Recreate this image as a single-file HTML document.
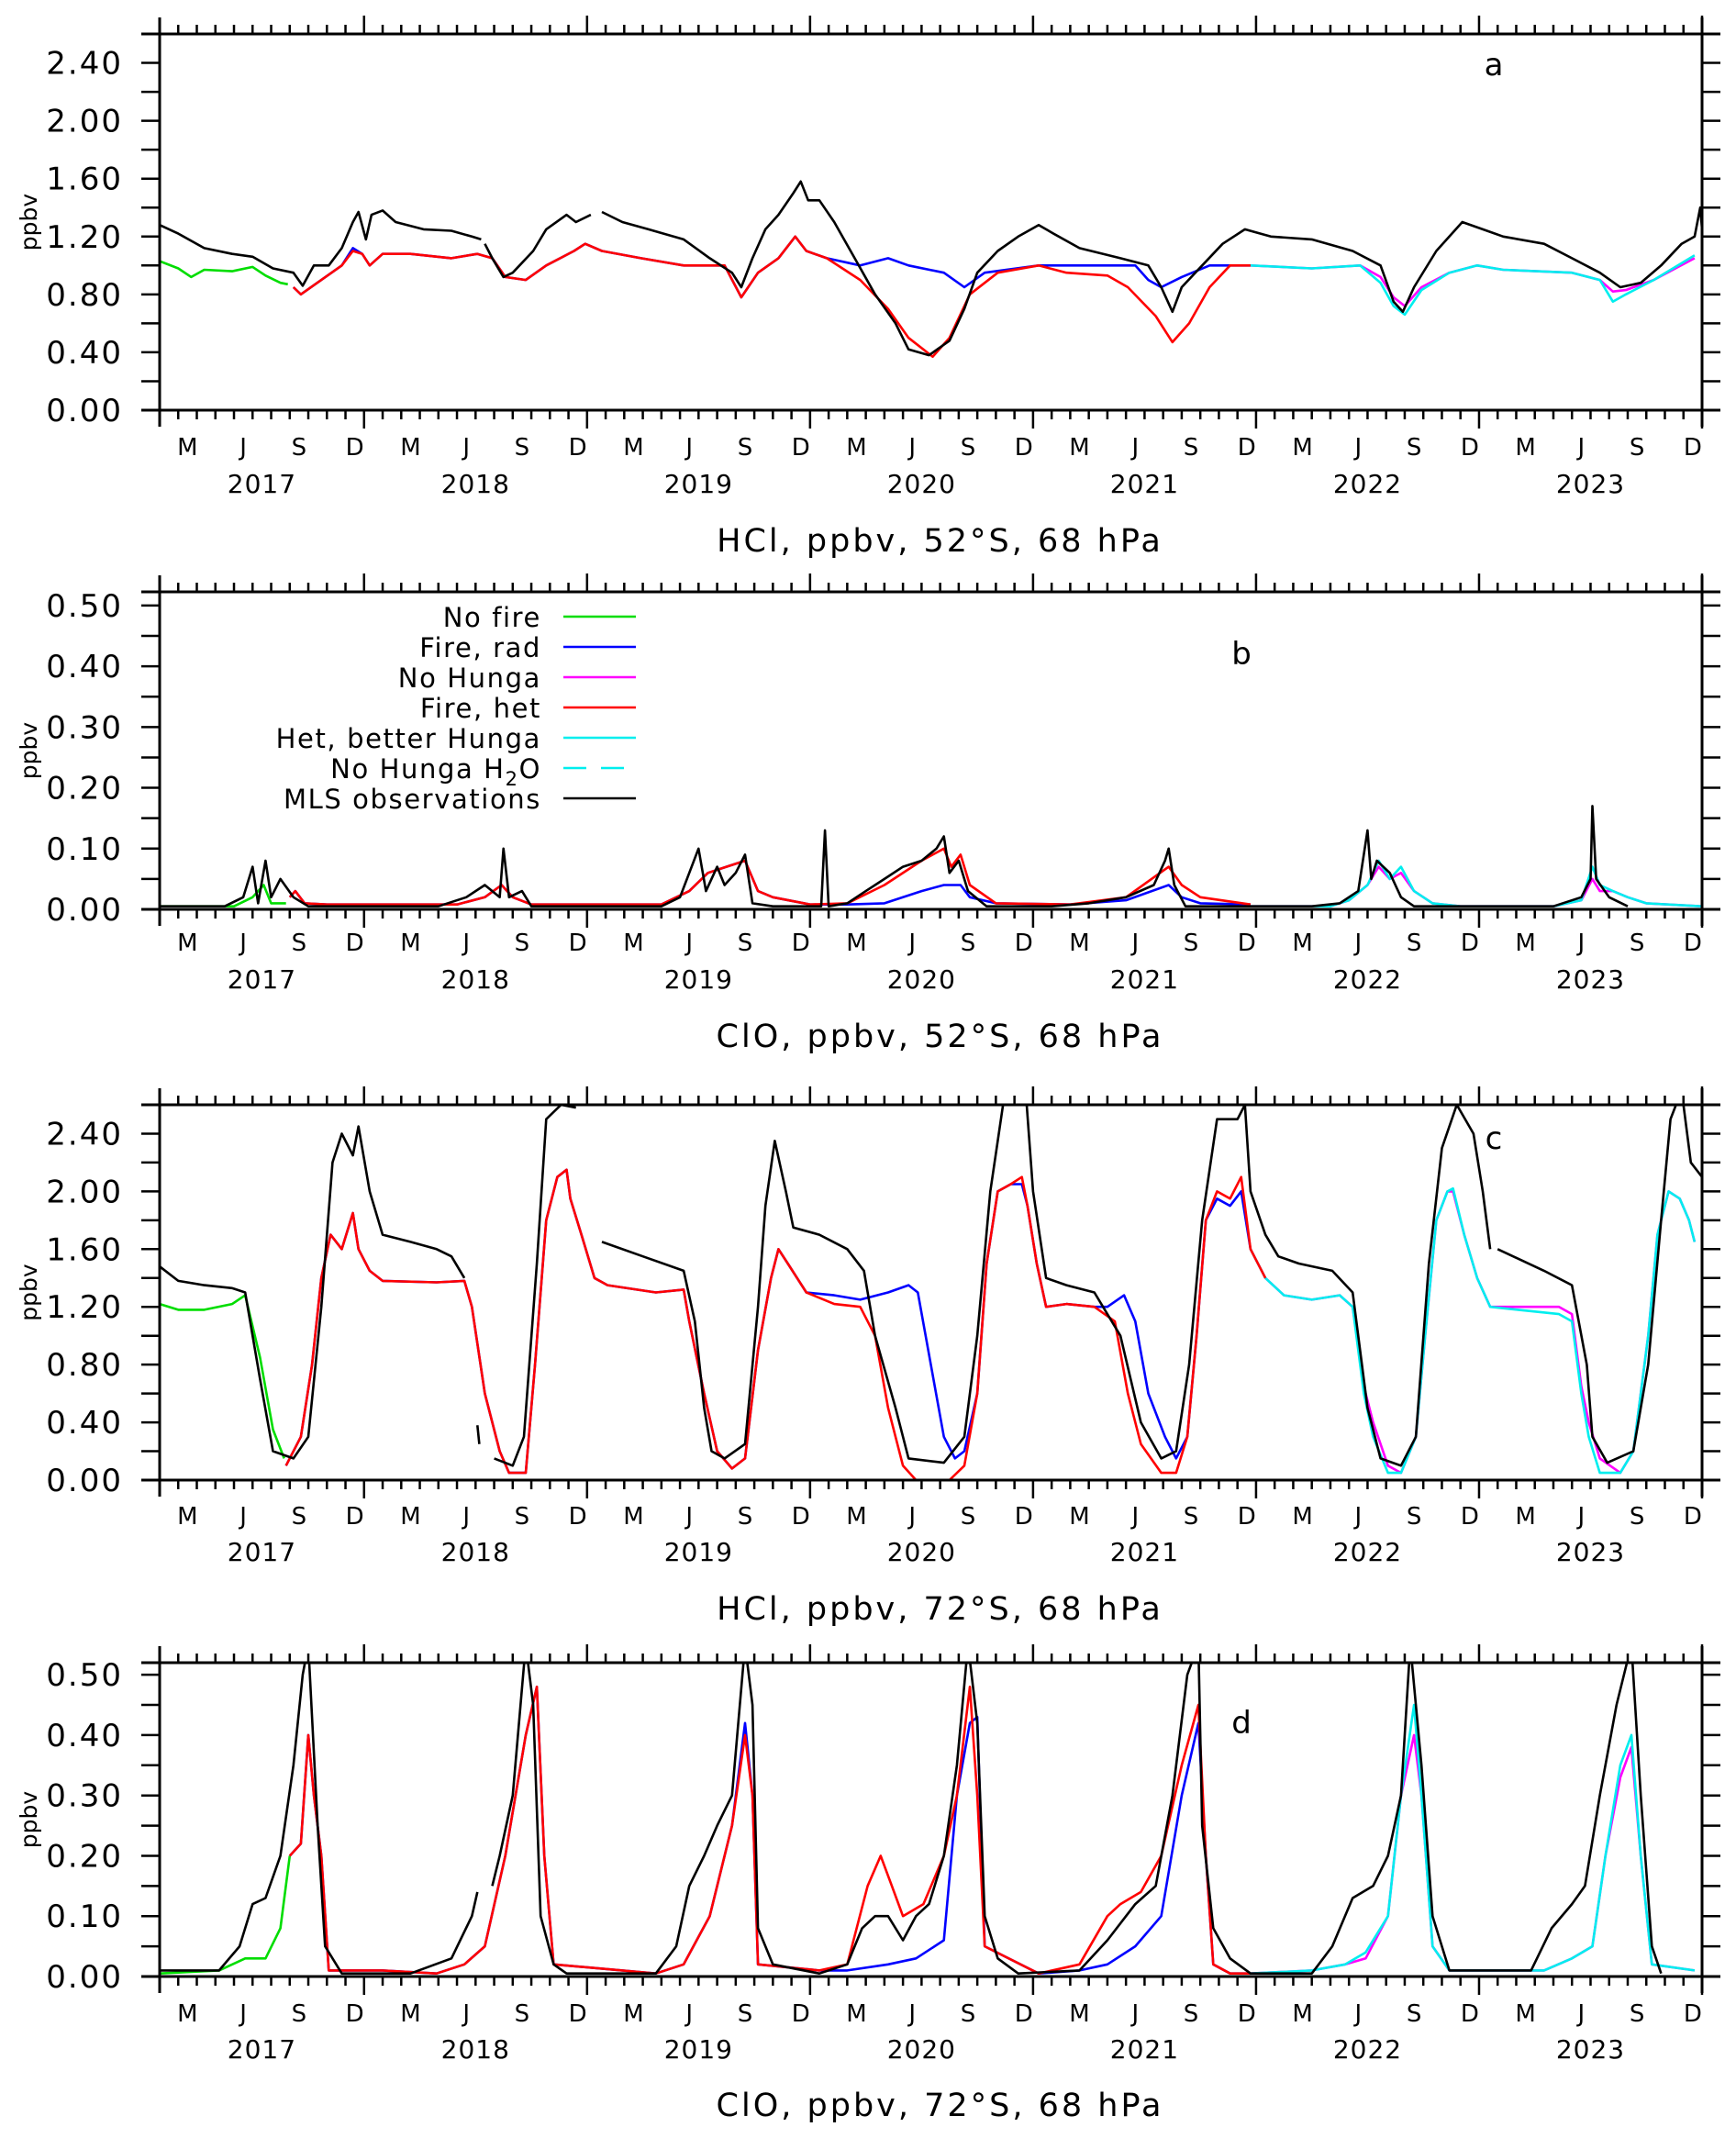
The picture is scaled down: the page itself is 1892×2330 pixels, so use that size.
<!DOCTYPE html>
<html><head><meta charset="utf-8"><style>
html,body{margin:0;padding:0;background:#fff;}
svg{display:block;}
text{font-family:"DejaVu Sans","Liberation Sans",sans-serif;fill:#000;}
</style></head><body>
<svg id="fig" width="1892" height="2330" viewBox="0 0 1892 2330" xmlns="http://www.w3.org/2000/svg"></svg>
<script>
// ---------- DATA (month index: 0 = Jan 1 2017; plot spans 1..84) ----------
const monthLabels = ["M","J","S","D"];
const monthLabelPos = [2.5,5.5,8.5,11.5];
const years = [2017,2018,2019,2020,2021,2022,2023];
const legendLabels = ["No fire","Fire, rad","No Hunga","Fire, het","Het, better Hunga","No Hunga H2O","MLS observations"];
const ticksHCl = ["0.00","0.40","0.80","1.20","1.60","2.00","2.40"];
const ticksClO = ["0.00","0.10","0.20","0.30","0.40","0.50"];

// Panel a: HCl 52S
const aGreen = [[1,1.03],[2,0.98],[2.7,0.92],[3.4,0.97],[4.9,0.96],[6,0.99],[6.7,0.93],[7.5,0.88],[7.9,0.87]];
const aBlue = [[8.2,0.85],[8.6,0.8],[9.7,0.9],[10.8,1.0],[11.4,1.12],[11.9,1.08],[12.3,1.0],[13,1.08],[14.5,1.08],[16.7,1.05],[18.1,1.08],[18.9,1.05],[19.6,0.92],[20.7,0.9],[21.8,1.0],[23.3,1.1],[23.9,1.15],[24.8,1.1],[26.9,1.05],[29.2,1.0],[31.4,1.0],[32.3,0.78],[33.2,0.95],[34.3,1.05],[35.2,1.2],[35.8,1.1],[36.9,1.05],[38.7,1.0],[40.2,1.05],[41.3,1.0],[43.2,0.95],[44.3,0.85],[45.4,0.95],[48.3,1.0],[52,1.0],[53.5,1.0],[54.2,0.9],[54.9,0.85],[56,0.92],[57.5,1.0],[59.7,1.0]];
const aRed = [[8.2,0.85],[8.6,0.8],[9.7,0.9],[10.8,1.0],[11.4,1.1],[11.9,1.08],[12.3,1.0],[13,1.08],[14.5,1.08],[16.7,1.05],[18.1,1.08],[18.9,1.05],[19.6,0.92],[20.7,0.9],[21.8,1.0],[23.3,1.1],[23.9,1.15],[24.8,1.1],[26.9,1.05],[29.2,1.0],[31.4,1.0],[32.3,0.78],[33.2,0.95],[34.3,1.05],[35.2,1.2],[35.8,1.1],[36.9,1.05],[38.7,0.9],[40.2,0.7],[41.3,0.5],[42.6,0.37],[43.5,0.5],[44.6,0.8],[46.1,0.95],[48.3,1.0],[49.8,0.95],[52,0.93],[53.1,0.85],[54.6,0.65],[55.5,0.47],[56.4,0.6],[57.5,0.85],[58.6,1.0],[59.7,1.0]];
const aMagenta = [[59.7,1.0],[63,0.98],[65.6,1.0],[66.7,0.92],[67.4,0.78],[68,0.72],[68.9,0.85],[70.4,0.95],[71.9,1.0],[73.3,0.97],[77,0.95],[78.5,0.9],[79.2,0.82],[79.9,0.83],[81.4,0.9],[83.6,1.05]];
const aCyan = [[59.7,1.0],[63,0.98],[65.6,1.0],[66.7,0.88],[67.4,0.72],[68,0.66],[68.9,0.83],[70.4,0.95],[71.9,1.0],[73.3,0.97],[77,0.95],[78.5,0.9],[79.2,0.75],[79.9,0.8],[81.4,0.9],[83.6,1.07]];
const aBlack = [[1,1.28],[2,1.22],[3.4,1.12],[4.9,1.08],[6,1.06],[7.1,0.98],[8.2,0.95],[8.7,0.86],[9.3,1.0],[10.1,1.0],[10.8,1.12],[11.4,1.3],[11.7,1.37],[12.1,1.18],[12.4,1.35],[13,1.38],[13.7,1.3],[15.2,1.25],[16.7,1.24],[17.8,1.2],[18.3,1.18],null,[18.5,1.15],[18.9,1.05],[19.5,0.92],[20,0.95],[21.1,1.1],[21.8,1.25],[22.9,1.35],[23.4,1.3],[24.2,1.35],null,[24.8,1.37],[25.9,1.3],[27.3,1.25],[29.2,1.18],[30.6,1.05],[31.8,0.95],[32.3,0.85],[32.9,1.05],[33.6,1.25],[34.3,1.35],[35.1,1.5],[35.5,1.58],[35.9,1.45],[36.5,1.45],[37.3,1.3],[38.4,1.05],[39.5,0.8],[40.6,0.6],[41.3,0.42],[42.4,0.38],[43.5,0.48],[44.3,0.7],[45,0.95],[46.1,1.1],[47.2,1.2],[48.3,1.28],[49.1,1.22],[50.5,1.12],[52.7,1.05],[54.2,1.0],[54.9,0.85],[55.5,0.68],[56,0.85],[57.1,1.0],[58.2,1.15],[59.4,1.25],[60.8,1.2],[63,1.18],[65.2,1.1],[66.7,1.0],[67.4,0.75],[67.9,0.68],[68.5,0.85],[69.7,1.1],[71.1,1.3],[72.2,1.25],[73.3,1.2],[75.5,1.15],[77,1.05],[78.5,0.95],[79.6,0.85],[80.7,0.88],[81.8,1.0],[82.9,1.15],[83.6,1.2],[83.9,1.4],[84,1.25]];

// Panel b: ClO 52S
const bGreen = [[1,0.005],[5,0.005],[6,0.02],[6.6,0.04],[7,0.01],[7.8,0.01]];
const bBlue = [[8,0.02],[8.3,0.03],[8.8,0.01],[10,0.008],[17,0.008],[18.5,0.02],[19.4,0.04],[20,0.02],[21,0.008],[28,0.008],[29.5,0.03],[30.5,0.06],[31.5,0.07],[32.5,0.08],[33.2,0.03],[34,0.02],[36,0.008],[38,0.008],[40,0.01],[42,0.03],[43.2,0.04],[44.1,0.04],[44.6,0.02],[46,0.01],[50,0.008],[53,0.015],[55.3,0.04],[56,0.02],[57,0.01],[59.7,0.008]];
const bRed = [[8,0.02],[8.3,0.03],[8.8,0.01],[10,0.008],[17,0.008],[18.5,0.02],[19.4,0.04],[20,0.02],[21,0.008],[28,0.008],[29.5,0.03],[30.5,0.06],[31.5,0.07],[32.5,0.08],[33.2,0.03],[34,0.02],[36,0.008],[38,0.01],[40,0.04],[42,0.08],[43.2,0.1],[43.6,0.07],[44.1,0.09],[44.6,0.04],[46,0.01],[50,0.008],[53,0.02],[55.3,0.07],[56,0.04],[57,0.02],[59.7,0.008]];
const bMagenta = [[59.7,0.005],[64,0.005],[65,0.015],[66,0.04],[66.6,0.07],[67.2,0.05],[67.8,0.06],[68.5,0.03],[69.5,0.01],[71,0.005],[76,0.005],[77.5,0.015],[78.1,0.05],[78.5,0.03],[79.2,0.03],[80,0.02],[81,0.01],[84,0.005]];
const bCyan = [[59.7,0.005],[64,0.005],[65,0.015],[66,0.04],[66.6,0.08],[67.2,0.05],[67.8,0.07],[68.5,0.03],[69.5,0.01],[71,0.005],[76,0.005],[77.5,0.015],[78.1,0.07],[78.5,0.04],[79.2,0.03],[80,0.02],[81,0.01],[84,0.005]];
const bBlack = [[1,0.005],[4.5,0.005],[5.5,0.02],[6,0.07],[6.3,0.01],[6.7,0.08],[7,0.02],[7.5,0.05],[8.2,0.02],[9,0.005],[16,0.005],[17.5,0.02],[18.5,0.04],[19.3,0.02],[19.5,0.1],[19.8,0.02],[20.5,0.03],[21,0.005],[28,0.005],[29,0.02],[30,0.1],[30.4,0.03],[31,0.07],[31.4,0.04],[32,0.06],[32.5,0.09],[32.9,0.01],[34,0.005],[36.6,0.005],[36.8,0.13],[37,0.005],[38,0.01],[39,0.03],[40,0.05],[41,0.07],[42,0.08],[42.8,0.1],[43.2,0.12],[43.5,0.06],[44,0.08],[44.5,0.03],[45.5,0.005],[49,0.005],[51,0.01],[53,0.02],[54.5,0.04],[55.1,0.08],[55.3,0.1],[55.6,0.04],[56.2,0.005],[63,0.005],[64.5,0.01],[65.5,0.03],[66,0.13],[66.2,0.05],[66.5,0.08],[67.2,0.06],[67.8,0.02],[68.5,0.005],[76,0.005],[77.5,0.02],[78,0.05],[78.1,0.17],[78.3,0.05],[79,0.02],[80,0.005]];

// Panel c: HCl 72S
const cGreen = [[1,1.22],[2,1.18],[3.4,1.18],[4.9,1.22],[5.6,1.28],[6.4,0.85],[7.1,0.35],[7.7,0.15]];
const cBlue = [[7.8,0.1],[8.6,0.3],[9.2,0.8],[9.7,1.4],[10.2,1.7],[10.8,1.6],[11.4,1.85],[11.7,1.6],[12.3,1.45],[13,1.38],[15.9,1.37],[17.4,1.38],[17.8,1.2],[18.5,0.6],[19.3,0.2],[19.8,0.05],[20.7,0.05],[21.2,0.8],[21.8,1.8],[22.4,2.1],[22.9,2.15],[23.1,1.95],[23.7,1.7],[24.4,1.4],[25.1,1.35],[27.7,1.3],[29.2,1.32],[29.5,1.1],[30.3,0.6],[31,0.2],[31.8,0.08],[32.5,0.15],[33.2,0.9],[33.9,1.4],[34.3,1.6],[34.8,1.5],[35.8,1.3],[37.3,1.28],[38.7,1.25],[40.2,1.3],[41.3,1.35],[41.8,1.3],[42.5,0.8],[43.2,0.3],[43.8,0.15],[44.3,0.2],[45,0.6],[45.5,1.5],[46.1,2.0],[46.8,2.05],[47.4,2.05],[47.7,1.9],[48.2,1.5],[48.7,1.2],[49.8,1.22],[51.3,1.2],[52,1.2],[52.9,1.28],[53.5,1.1],[54.2,0.6],[55.1,0.3],[55.7,0.15],[56.3,0.3],[56.8,1.0],[57.3,1.8],[57.9,1.95],[58.6,1.9],[59.2,2.0],[59.7,1.6]];
const cRed = [[7.8,0.1],[8.6,0.3],[9.2,0.8],[9.7,1.4],[10.2,1.7],[10.8,1.6],[11.4,1.85],[11.7,1.6],[12.3,1.45],[13,1.38],[15.9,1.37],[17.4,1.38],[17.8,1.2],[18.5,0.6],[19.3,0.2],[19.8,0.05],[20.7,0.05],[21.2,0.8],[21.8,1.8],[22.4,2.1],[22.9,2.15],[23.1,1.95],[23.7,1.7],[24.4,1.4],[25.1,1.35],[27.7,1.3],[29.2,1.32],[29.5,1.1],[30.3,0.6],[31,0.2],[31.8,0.08],[32.5,0.15],[33.2,0.9],[33.9,1.4],[34.3,1.6],[34.8,1.5],[35.8,1.3],[37.3,1.22],[38.7,1.2],[39.5,1.0],[40.2,0.5],[41,0.1],[41.7,0.0],[43.5,0.0],[44.3,0.1],[45,0.6],[45.5,1.5],[46.1,2.0],[46.8,2.05],[47.4,2.1],[47.7,1.9],[48.2,1.5],[48.7,1.2],[49.8,1.22],[51.3,1.2],[52.4,1.1],[53.1,0.6],[53.8,0.25],[54.9,0.05],[55.7,0.05],[56.3,0.3],[56.8,1.0],[57.3,1.8],[57.9,2.0],[58.6,1.95],[59.2,2.1],[59.7,1.6],[60.5,1.4]];
const cMagenta = [[59.7,1.6],[60.5,1.4],[61.5,1.28],[63,1.25],[64.5,1.28],[65.2,1.2],[65.8,0.65],[66.3,0.4],[67.1,0.1],[67.8,0.05],[68.6,0.3],[69.1,1.0],[69.7,1.8],[70.3,2.0],[70.6,2.0],[71.2,1.7],[71.9,1.4],[72.6,1.2],[74.1,1.2],[76.3,1.2],[77,1.15],[77.5,0.65],[77.9,0.4],[78.5,0.15],[79.6,0.05],[80.3,0.2],[81.1,1.0],[81.6,1.7],[82.2,2.0],[82.8,1.95],[83.3,1.8],[83.6,1.65]];
const cCyan = [[59.7,1.6],[60.5,1.4],[61.5,1.28],[63,1.25],[64.5,1.28],[65.2,1.2],[65.8,0.6],[66.3,0.3],[67.1,0.05],[67.8,0.05],[68.6,0.3],[69.1,1.0],[69.7,1.8],[70.3,2.0],[70.6,2.02],[71.2,1.7],[71.9,1.4],[72.6,1.2],[74.1,1.18],[76.3,1.15],[77,1.1],[77.5,0.6],[77.9,0.3],[78.5,0.05],[79.6,0.05],[80.3,0.2],[81.1,1.0],[81.6,1.7],[82.2,2.0],[82.8,1.95],[83.3,1.8],[83.6,1.65]];
const cBlack = [[1,1.48],[2,1.38],[3.4,1.35],[4.9,1.33],[5.6,1.3],[6.4,0.7],[7.1,0.2],[8.2,0.15],[9,0.3],[9.7,1.2],[10.3,2.2],[10.8,2.4],[11.4,2.25],[11.7,2.45],[12.3,2.0],[13,1.7],[14.5,1.65],[15.9,1.6],[16.7,1.55],[17.4,1.4],null,[18.1,0.38],[18.2,0.25],null,[19,0.15],[20,0.1],[20.6,0.3],[21.3,1.5],[21.8,2.5],[22.6,2.6],[23.4,2.58],null,[24.8,1.65],[27,1.55],[29.2,1.45],[29.8,1.1],[30.3,0.5],[30.7,0.2],[31.4,0.15],[32.5,0.25],[33.2,1.2],[33.6,1.9],[34.1,2.35],[34.7,2.0],[35.1,1.75],[36.5,1.7],[38,1.6],[38.9,1.45],[39.5,1.0],[40.6,0.5],[41.3,0.15],[43.2,0.12],[44.3,0.3],[45,1.0],[45.7,2.0],[46.5,2.7],[47.6,2.7],[48,2.0],[48.7,1.4],[49.8,1.35],[51.3,1.3],[52.7,1.0],[53.8,0.4],[54.9,0.15],[55.7,0.2],[56.4,0.8],[57.1,1.8],[57.9,2.5],[59,2.5],[59.4,2.6],[59.7,2.0],[60.5,1.7],[61.2,1.55],[62.3,1.5],[64.1,1.45],[65.2,1.3],[66,0.5],[66.7,0.15],[67.8,0.1],[68.6,0.3],[69.3,1.5],[70,2.3],[70.8,2.6],[71.7,2.4],[72.2,2.0],[72.6,1.6],null,[73,1.6],[75.5,1.45],[77,1.35],[77.8,0.8],[78.1,0.3],[78.9,0.12],[80.3,0.2],[81.1,0.8],[81.8,1.8],[82.3,2.5],[82.9,2.7],[83.4,2.2],[84,2.1]];

// Panel d: ClO 72S
const dGreen = [[1,0.005],[4.2,0.01],[5.6,0.03],[6.7,0.03],[7.5,0.08],[8,0.2]];
const dBlue = [[8,0.2],[8.6,0.22],[9,0.4],[9.3,0.3],[9.7,0.2],[10.1,0.01],[13,0.01],[15.9,0.005],[17.4,0.02],[18.5,0.05],[19.6,0.2],[20.7,0.4],[21.3,0.48],[21.7,0.2],[22.2,0.02],[27.7,0.005],[29.2,0.02],[30.6,0.1],[31.8,0.25],[32.5,0.42],[32.9,0.3],[33.2,0.02],[36.5,0.01],[38,0.01],[40.2,0.02],[41.7,0.03],[43.2,0.06],[43.9,0.3],[44.6,0.42],[45,0.43],[45.4,0.05],[48.3,0.005],[50.5,0.01],[52,0.02],[53.5,0.05],[54.9,0.1],[56,0.3],[56.9,0.42],[57.3,0.2],[57.7,0.02],[58.6,0.005],[59.7,0.005]];
const dRed = [[8,0.2],[8.6,0.22],[9,0.4],[9.3,0.3],[9.7,0.2],[10.1,0.01],[13,0.01],[15.9,0.005],[17.4,0.02],[18.5,0.05],[19.6,0.2],[20.7,0.4],[21.3,0.48],[21.7,0.2],[22.2,0.02],[27.7,0.005],[29.2,0.02],[30.6,0.1],[31.8,0.25],[32.5,0.4],[32.9,0.3],[33.2,0.02],[36.5,0.01],[38,0.02],[39.1,0.15],[39.8,0.2],[40.4,0.15],[41,0.1],[42.1,0.12],[43.2,0.2],[43.9,0.3],[44.6,0.48],[45,0.3],[45.4,0.05],[48.3,0.005],[50.5,0.02],[52,0.1],[52.7,0.12],[53.8,0.14],[54.9,0.2],[56,0.35],[56.9,0.45],[57.3,0.2],[57.7,0.02],[58.6,0.005],[59.7,0.005]];
const dMagenta = [[59.7,0.005],[63,0.01],[64.8,0.02],[65.9,0.03],[67.1,0.1],[67.8,0.3],[68.5,0.4],[68.9,0.3],[69.5,0.05],[70.4,0.01],[75.5,0.01],[77,0.03],[78.1,0.05],[78.8,0.2],[79.6,0.33],[80.2,0.38],[80.7,0.2],[81.3,0.02],[83.6,0.01]];
const dCyan = [[59.7,0.005],[63,0.01],[64.8,0.02],[65.9,0.04],[67.1,0.1],[67.8,0.3],[68.5,0.45],[68.9,0.3],[69.5,0.05],[70.4,0.01],[75.5,0.01],[77,0.03],[78.1,0.05],[78.8,0.2],[79.6,0.35],[80.2,0.4],[80.7,0.2],[81.3,0.02],[83.6,0.01]];
const dBlack = [[1,0.01],[4.2,0.01],[5.3,0.05],[6,0.12],[6.7,0.13],[7.5,0.2],[8.2,0.35],[8.7,0.5],[9,0.55],[9.5,0.25],[9.9,0.05],[10.8,0.005],[14.5,0.005],[16.7,0.03],[17.8,0.1],[18.1,0.14],null,[18.9,0.15],[19.3,0.2],[20,0.3],[20.7,0.55],[21.1,0.45],[21.5,0.1],[22.2,0.02],[22.9,0.005],[27.7,0.005],[28.8,0.05],[29.5,0.15],[30.3,0.2],[31,0.25],[31.8,0.3],[32.5,0.55],[32.9,0.45],[33.2,0.08],[34,0.02],[36.5,0.005],[38,0.02],[38.8,0.08],[39.5,0.1],[40.2,0.1],[41,0.06],[41.7,0.1],[42.4,0.12],[43.2,0.2],[43.9,0.35],[44.5,0.55],[45,0.42],[45.4,0.1],[46.1,0.03],[47.2,0.005],[50.5,0.01],[52,0.06],[53.5,0.12],[54.6,0.15],[55.5,0.3],[56.3,0.5],[56.9,0.55],[57.1,0.25],[57.7,0.08],[58.6,0.03],[59.7,0.005],[63,0.005],[64.1,0.05],[65.2,0.13],[66.3,0.15],[67.1,0.2],[67.8,0.3],[68.3,0.55],[68.9,0.35],[69.5,0.1],[70.4,0.01],[74.8,0.01],[75.9,0.08],[77,0.12],[77.7,0.15],[78.5,0.3],[79.4,0.45],[80.2,0.55],[80.7,0.3],[81.3,0.05],[81.8,0.005]];

// ---------- LAYOUT ----------
const NS = "http://www.w3.org/2000/svg";
const svg = document.getElementById('fig');
const X0 = 174, X1 = 1855, M0 = 1, M1 = 84;
function xs(m){ return X0 + (m - M0) * (X1 - X0) / (M1 - M0); }
const panels = [
  {id:'a', top:37, bot:447, ymax:2.6, minor:0.2, labels:ticksHCl, lstep:0.4, title:"HCl,  ppbv,  52°S,  68 hPa", letterX:1628, letterY:82, monthY:496, yearY:537, titleY:601,
   series:[[aGreen,'#00dd00'],[aBlue,'#0000ff'],[aMagenta,'#ff00ff'],[aCyan,'#00eeee'],[aRed,'#ff0000'],[aBlack,'#000']]},
  {id:'b', top:645, bot:991, ymax:0.5225, minor:0.05, labels:ticksClO, lstep:0.1, title:"ClO,  ppbv,  52°S,  68 hPa", letterX:1353, letterY:724, monthY:1036, yearY:1077, titleY:1141,
   series:[[bGreen,'#00dd00'],[bBlue,'#0000ff'],[bMagenta,'#ff00ff'],[bCyan,'#00eeee'],[bRed,'#ff0000'],[bBlack,'#000']]},
  {id:'c', top:1204, bot:1613, ymax:2.6, minor:0.2, labels:ticksHCl, lstep:0.4, title:"HCl,  ppbv,  72°S,  68 hPa", letterX:1628, letterY:1252, monthY:1661, yearY:1701, titleY:1765,
   series:[[cGreen,'#00dd00'],[cBlue,'#0000ff'],[cMagenta,'#ff00ff'],[cCyan,'#00eeee'],[cRed,'#ff0000'],[cBlack,'#000']]},
  {id:'d', top:1812, bot:2154, ymax:0.52, minor:0.05, labels:ticksClO, lstep:0.1, title:"ClO,  ppbv,  72°S,  68 hPa", letterX:1353, letterY:1889, monthY:2203, yearY:2243, titleY:2306,
   series:[[dGreen,'#00dd00'],[dBlue,'#0000ff'],[dMagenta,'#ff00ff'],[dCyan,'#00eeee'],[dRed,'#ff0000'],[dBlack,'#000']]}
];
const seriesNames = ['no-fire-line','fire-rad-line','no-hunga-line','het-better-hunga-line','fire-het-line','mls-observations-line'];

function mk(tag, attrs, parent){
  const e = document.createElementNS(NS, tag);
  for (const k in attrs) e.setAttribute(k, attrs[k]);
  (parent||svg).appendChild(e);
  return e;
}
function line(g,x1,y1,x2,y2,w){ const l=mk('line',{x1,y1,x2,y2,stroke:'#000','stroke-width':w||2.5},g);   return l; }

panels.forEach(p=>{
  const g = mk('g',{});
  
  
  const ys = v => p.bot - v * (p.bot - p.top) / p.ymax;
  const cp = mk('clipPath',{id:'clip'+p.id},g);
  mk('rect',{x:X0,y:p.top,width:X1-X0,height:p.bot-p.top},cp);
  const sg = mk('g',{'clip-path':'url(#clip'+p.id+')'},g);
  
  
  p.series.forEach((s,i)=>{
    let d='', pen=false;
    s[0].forEach(pt=>{
      if(!pt){pen=false;return;}
      d += (pen?'L':'M') + xs(pt[0]).toFixed(1) + ' ' + ys(pt[1]).toFixed(1) + ' ';
      pen=true;
    });
    const path = mk('path',{d, fill:'none', stroke:s[1], 'stroke-width': 2.6, 'stroke-linejoin':'round'},sg);
    
    
  });
  const ax = mk('g',{},g);
  
  
  line(ax,X0-20,p.top,X1+20,p.top,3);
  line(ax,X0-20,p.bot,X1+20,p.bot,3);
  line(ax,X0,p.top-18,X0,p.bot+18,3);
  line(ax,X1,p.top-18,X1,p.bot+18,3);
  const nT = Math.floor(p.ymax/p.minor + 1e-6);
  for(let k=0;k<=nT;k++){
    const y = ys(k*p.minor);
    line(ax,X0-20,y,X0,y,2.5);
    line(ax,X1,y,X1+20,y,2.5);
  }
  p.labels.forEach((lab,k)=>{
    const t = mk('text',{x:134,y:ys(k*p.lstep)+12,'font-size':34,'text-anchor':'end','letter-spacing':'2'},ax);
    t.textContent = lab;
    
    
  });
  const yl = mk('text',{x:0,y:0,'font-size':25,'text-anchor':'middle',transform:`translate(40,${(p.top+p.bot)/2}) rotate(-90)`},ax);
  yl.textContent='ppbv';
  
  
  for(let m=M0;m<=M1;m++){
    const big = (m%12===0);
    const L = big?20:10;
    const x = xs(m);
    line(ax,x,p.bot,x,p.bot+L,2.5);
    line(ax,x,p.top-L,x,p.top,2.5);
  }
  years.forEach((yr,yi)=>{
    monthLabels.forEach((ml,j)=>{
      const m = yi*12 + monthLabelPos[j];
      const t = mk('text',{x:xs(m),y:p.monthY,'font-size':26,'text-anchor':'middle'},ax);
      t.textContent = ml;
      
      
    });
    const a = Math.max(M0, yi*12), b = yi*12+12;
    const t = mk('text',{x:(xs(a)+xs(b))/2,y:p.yearY,'font-size':28,'text-anchor':'middle','letter-spacing':'1'},ax);
    t.textContent = yr;
    
    
  });
  const tt = mk('text',{x:(X0+X1)/2+10,y:p.titleY,'font-size':35,'text-anchor':'middle','letter-spacing':'3'},g);
  tt.textContent = p.title;
  
  
  const lt = mk('text',{x:p.letterX,y:p.letterY,'font-size':34,'text-anchor':'middle'},g);
  lt.textContent = p.id;
  
  
});

// legend in panel b
const legColors = ['#00dd00','#0000ff','#ff00ff','#ff0000','#00eeee','#00eeee','#000'];
const lg = mk('g',{});


legendLabels.forEach((lab,i)=>{
  const y = 672 + i*33;
  const t = mk('text',{x:590,y:y+11,'font-size':29,'text-anchor':'end','letter-spacing':'1.6'},lg);
  if(i===5){
    t.appendChild(document.createTextNode('No Hunga H'));
    const s = mk('tspan',{'font-size':21,dy:8},t); s.textContent='2';
    const s2 = mk('tspan',{dy:-8},t); s2.textContent='O';
  } else t.textContent = lab;
  
  
  const l = mk('line',{x1:614,y1:y,x2:693,y2:y,stroke:legColors[i],'stroke-width':2.5},lg);
  if(i===5) l.setAttribute('stroke-dasharray','25 16');
  
  
});
</script>
</body></html>
